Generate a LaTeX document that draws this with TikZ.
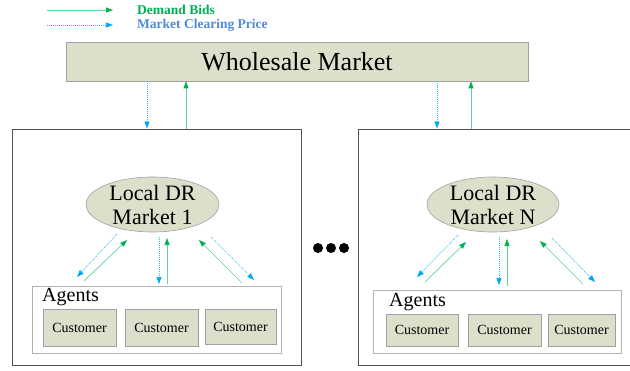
\documentclass[tikz,border=0pt]{standalone}
\usepackage{fontspec}
\setmainfont{Liberation Serif}
\usetikzlibrary{arrows.meta,shapes.geometric}
\definecolor{boxfill}{HTML}{DCE0CA}
\definecolor{boxedge}{HTML}{A0A0A0}
\definecolor{outeredge}{HTML}{505050}
\definecolor{gline}{HTML}{60D598}
\definecolor{gtip}{HTML}{00B050}
\definecolor{bline}{HTML}{30BDF0}
\definecolor{btip}{HTML}{00A8F0}
\definecolor{bidtext}{HTML}{00B050}
\definecolor{pricetext}{HTML}{4F8BDB}
\tikzset{
  bid/.style={draw=gline, line width=0.7pt, -{Triangle[length=7pt,width=5pt,color=gtip]}},
  price/.style={draw=bline, line width=0.7pt, dash pattern=on 1pt off 1pt, -{Triangle[length=7pt,width=5pt,color=btip]}},
  greenbox/.style={draw=boxedge, fill=boxfill, line width=0.6pt, inner sep=0pt},
  outerbox/.style={draw=outeredge, line width=1pt, inner sep=0pt},
  agentbox/.style={draw=boxedge!80, line width=0.6pt, inner sep=0pt},
  custtext/.style={font=\fontsize{14}{16}\selectfont},
  dot/.style={circle, fill=black, minimum size=10pt, inner sep=0pt},
}
\begin{document}
\begin{tikzpicture}[x=1pt,y=-1pt]
\useasboundingbox (0,0) rectangle (630,370);
\clip (0,0) rectangle (630,370);
% legend
\coordinate (l1a) at (47,10); \coordinate (l1b) at (113,10);
\coordinate (l2a) at (47,25); \coordinate (l2b) at (113,25);
\draw[bid] (l1a) -- (l1b);
\draw[price] (l2a) -- (l2b);
\node[anchor=west, inner sep=0pt, text=bidtext, font=\fontsize{13.5}{15}\selectfont\bfseries] (lt1) at (137,10) {Demand Bids};
\node[anchor=west, inner sep=0pt, text=pricetext, font=\fontsize{13.5}{15}\selectfont\bfseries] (lt2) at (137,25) {Market Clearing Price};
% wholesale
\node[greenbox, minimum width=462pt, minimum height=39pt, font=\fontsize{26}{28}\selectfont] (wm) at (297,61.5) {Wholesale Market};
% outer boxes
\node[outerbox, minimum width=289pt, minimum height=236pt] (ob1) at (156.5,247) {};
\node[outerbox, minimum width=290pt, minimum height=236pt] (obn) at (503,247) {};
% ellipses
\node[ellipse, draw=boxedge, fill=boxfill, line width=0.6pt, minimum width=133pt, minimum height=55pt, inner sep=0pt] (e1) at (152.5,204.5) {};
\node[align=center, inner sep=0pt, font=\fontsize{22}{24}\selectfont] (e1t) at (152.5,204.5) {Local DR\\Market 1};
\node[ellipse, draw=boxedge, fill=boxfill, line width=0.6pt, minimum width=132pt, minimum height=55pt, inner sep=0pt] (en) at (493,204.5) {};
\node[align=center, inner sep=0pt, font=\fontsize{22}{24}\selectfont] (ent) at (493,204.5) {Local DR\\Market N};
% dots
\node[dot] (d1) at (318,248) {};
\node[dot] (d2) at (331,248) {};
\node[dot] (d3) at (344,248) {};
% agents boxes
\node[agentbox, minimum width=249pt, minimum height=67pt] (ag1) at (156.5,319.5) {};
\node[anchor=west, inner sep=0pt, font=\fontsize{20}{22}\selectfont] (ag1t) at (42,297) {Agents};
\node[agentbox, minimum width=248pt, minimum height=63pt] (agn) at (497,321.5) {};
\node[anchor=west, inner sep=0pt, font=\fontsize{20}{22}\selectfont] (agnt) at (389,302) {Agents};
% customers
\node[greenbox, custtext, minimum width=73pt, minimum height=37pt] (c11) at (79.5,327.5) {Customer};
\node[greenbox, custtext, minimum width=73pt, minimum height=37pt] (c12) at (161.5,327.5) {Customer};
\node[greenbox, custtext, minimum width=71pt, minimum height=35pt] (c13) at (240.5,326.5) {Customer};
\node[greenbox, custtext, minimum width=72pt, minimum height=32pt] (cn1) at (422,330) {Customer};
\node[greenbox, custtext, minimum width=73pt, minimum height=32pt] (cn2) at (504.5,330) {Customer};
\node[greenbox, custtext, minimum width=67pt, minimum height=32pt] (cn3) at (581.5,330) {Customer};
% wholesale <-> local
\draw[price] (wm.south -| 147,0) -- (ob1.north -| 147,0);
\draw[bid] (ob1.north -| 186,0) -- (wm.south -| 186,0);
\draw[price] (wm.south -| 437,0) -- (obn.north -| 437,0);
\draw[bid] (obn.north -| 471,0) -- (wm.south -| 471,0);
% local 1 <-> agents
\coordinate (p1a) at (117,234); \coordinate (p1b) at (77,277);
\coordinate (b1a) at (84,281); \coordinate (b1b) at (127,240);
\coordinate (p2a) at (159,237); \coordinate (p2b) at (159,284);
\coordinate (b2a) at (167,284); \coordinate (b2b) at (167,238);
\coordinate (p3a) at (211,237); \coordinate (p3b) at (254,280);
\coordinate (b3a) at (242,283); \coordinate (b3b) at (199,240);
\draw[price] (p1a) -- (p1b);
\draw[bid] (b1a) -- (b1b);
\draw[price] (p2a) -- (p2b);
\draw[bid] (b2a) -- (b2b);
\draw[price] (p3a) -- (p3b);
\draw[bid] (b3a) -- (b3b);
% local N <-> agents
\coordinate (q1a) at (458,235); \coordinate (q1b) at (417,277);
\coordinate (r1a) at (425,282); \coordinate (r1b) at (466,242);
\coordinate (q2a) at (499,237); \coordinate (q2b) at (499,285);
\coordinate (r2a) at (507,286); \coordinate (r2b) at (507,239);
\coordinate (q3a) at (552,238); \coordinate (q3b) at (595,282);
\coordinate (r3a) at (583,284); \coordinate (r3b) at (540,241);
\draw[price] (q1a) -- (q1b);
\draw[bid] (r1a) -- (r1b);
\draw[price] (q2a) -- (q2b);
\draw[bid] (r2a) -- (r2b);
\draw[price] (q3a) -- (q3b);
\draw[bid] (r3a) -- (r3b);
\end{tikzpicture}
\end{document}
